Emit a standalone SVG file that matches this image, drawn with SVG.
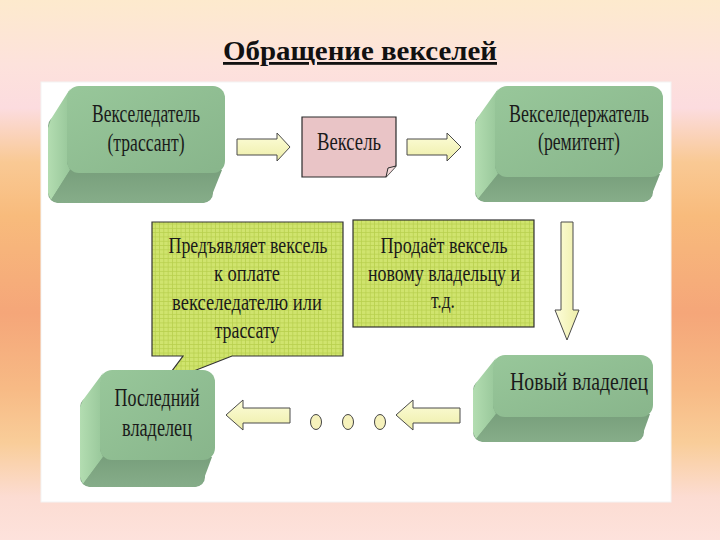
<svg xmlns="http://www.w3.org/2000/svg" width="720" height="540" viewBox="0 0 720 540">
<defs>
  <linearGradient id="bg" x1="0" y1="0" x2="0" y2="1">
    <stop offset="0" stop-color="#fdeacd"/>
    <stop offset="0.12" stop-color="#fde2dc"/>
    <stop offset="0.2" stop-color="#fcdcdf"/>
    <stop offset="0.3" stop-color="#f9c994"/>
    <stop offset="0.4" stop-color="#f8bb7c"/>
    <stop offset="0.58" stop-color="#f5a679"/>
    <stop offset="0.72" stop-color="#f7ba85"/>
    <stop offset="0.82" stop-color="#f9cd99"/>
    <stop offset="0.92" stop-color="#fcdcd2"/>
    <stop offset="1" stop-color="#fde2dc"/>
  </linearGradient>
  <linearGradient id="front" x1="0" y1="0" x2="1" y2="1">
    <stop offset="0" stop-color="#98c79a"/>
    <stop offset="1" stop-color="#88b58b"/>
  </linearGradient>
  <linearGradient id="side" x1="0" y1="0" x2="1" y2="0">
    <stop offset="0" stop-color="#b3ddb1"/>
    <stop offset="1" stop-color="#98c79a"/>
  </linearGradient>
  <linearGradient id="bottom" x1="0" y1="0" x2="0" y2="1">
    <stop offset="0" stop-color="#789f7c"/>
    <stop offset="1" stop-color="#86ad89"/>
  </linearGradient>
  <linearGradient id="arrowFill" x1="0" y1="0" x2="0" y2="1">
    <stop offset="0" stop-color="#fdfdda"/>
    <stop offset="1" stop-color="#eeeea8"/>
  </linearGradient>
  <linearGradient id="arrowFillV" x1="0" y1="0" x2="1" y2="0">
    <stop offset="0" stop-color="#fdfdda"/>
    <stop offset="1" stop-color="#eeeea8"/>
  </linearGradient>
  <pattern id="grid" width="4.3" height="4.3" patternUnits="userSpaceOnUse">
    <rect width="4.3" height="4.3" fill="#d0e46e"/>
    <path d="M0 0.4H4.3M0.4 0V4.3" stroke="#b7d04e" stroke-width="0.8"/>
  </pattern>
</defs>
<style>
  .t { font-family: "Liberation Serif", "Times New Roman", serif; font-size: 25px; fill: #1a1a1a; text-anchor: middle; }
  .s { font-size: 23px; }
  .title { font-family: "Liberation Serif", "Times New Roman", serif; font-weight: bold; font-size: 28px; fill: #111; text-anchor: middle; text-decoration: underline; }
  .front { fill: url(#front); }
  .side { fill: url(#side); }
  .bot { fill: url(#bottom); }
  .back { fill: #7ea582; }
  .arrow { fill: url(#arrowFill); stroke: #4a4a4a; stroke-width: 1; stroke-linejoin: miter; }
  .dot { fill: #f6f2bc; stroke: #444; stroke-width: 1; }
  .callout { fill: url(#grid); stroke: #333; stroke-width: 1.2; }
</style>

<rect width="720" height="540" fill="url(#bg)"/>
<rect x="41" y="82" width="630" height="420" fill="#ffffff" stroke="#f3f3f3" stroke-width="1"/>

<text class="title" x="360" y="60" textLength="274" lengthAdjust="spacingAndGlyphs">Обращение векселей</text>

<g id="drawer">
  <rect class="back" x="48" y="116" width="165" height="87" rx="10"/>
  <polygon class="side" points="70,89 51,119 48,128 48,193 51,200 70,170 67,163 67,98"/>
  <polygon class="bot" points="70,170 51,200 58,203 203,203 210,200 222,170"/>
  <rect class="front" x="67" y="86" width="158" height="87" rx="12"/>
  <text class="t" x="146" y="122" textLength="108" lengthAdjust="spacingAndGlyphs">Векселедатель</text>
  <text class="t" x="146" y="151" textLength="77" lengthAdjust="spacingAndGlyphs">(трассант)</text>
</g>

<g id="bill">
  <path d="M302,117 H396 V166 L386,177 H302 Z" fill="#e9c4c6" stroke="#2a2a2a" stroke-width="1.2"/>
  <path d="M386,177 L388,168 L396,166" fill="#f4dcdc" stroke="#2a2a2a" stroke-width="1"/>
  <text class="t" x="349" y="150" textLength="64" lengthAdjust="spacingAndGlyphs">Вексель</text>
</g>

<g id="holder">
  <rect class="back" x="475" y="114" width="178" height="88" rx="10"/>
  <polygon class="side" points="498,89 478,117 475,124 475,192 478,199 498,174 495,167 495,98"/>
  <polygon class="bot" points="498,174 478,199 485,202 643,202 650,199 660,174"/>
  <rect class="front" x="495" y="86" width="168" height="91" rx="12"/>
  <text class="t" x="579" y="122" textLength="140" lengthAdjust="spacingAndGlyphs">Векселедержатель</text>
  <text class="t" x="579" y="150" textLength="82" lengthAdjust="spacingAndGlyphs">(ремитент)</text>
</g>

<g id="present-note">
  <path class="callout" d="M152,222 H343 V356 H232 L163,383 L183,356 H152 Z"/>
  <text class="t s" x="248" y="253" textLength="159" lengthAdjust="spacingAndGlyphs">Предъявляет вексель</text>
  <text class="t s" x="247" y="281" textLength="66" lengthAdjust="spacingAndGlyphs">к оплате</text>
  <text class="t s" x="247" y="310" textLength="150" lengthAdjust="spacingAndGlyphs">векселедателю или</text>
  <text class="t s" x="247" y="338" textLength="65" lengthAdjust="spacingAndGlyphs">трассату</text>
</g>

<g id="sell-note">
  <rect class="callout" x="353" y="220" width="181" height="107"/>
  <text class="t s" x="444" y="253" textLength="127" lengthAdjust="spacingAndGlyphs">Продаёт вексель</text>
  <text class="t s" x="444" y="281" textLength="152" lengthAdjust="spacingAndGlyphs">новому владельцу и</text>
  <text class="t s" x="443" y="308" textLength="24" lengthAdjust="spacingAndGlyphs">т.д.</text>
</g>

<g id="new-owner">
  <rect class="back" x="473" y="380" width="171" height="62" rx="10"/>
  <polygon class="side" points="496,358 476,383 473,390 473,432 476,439 496,414 493,407 493,367"/>
  <polygon class="bot" points="496,414 476,439 483,442 634,442 641,439 650,414"/>
  <rect class="front" x="493" y="355" width="160" height="62" rx="12"/>
  <text class="t" x="579" y="390" textLength="138" lengthAdjust="spacingAndGlyphs">Новый владелец</text>
</g>

<g id="last-owner">
  <rect class="back" x="80" y="397" width="125" height="90" rx="10"/>
  <polygon class="side" points="103,373 83,400 80,407 80,477 83,484 103,457 100,450 100,382"/>
  <polygon class="bot" points="103,457 83,484 90,487 195,487 202,484 212,457"/>
  <rect class="front" x="100" y="370" width="115" height="90" rx="12"/>
  <text class="t" x="157" y="406" textLength="85" lengthAdjust="spacingAndGlyphs">Последний</text>
  <text class="t" x="157" y="436" textLength="70" lengthAdjust="spacingAndGlyphs">владелец</text>
</g>

<g id="connectors">
  <polygon class="arrow" points="237,139 277,139 277,133 290,147 277,161 277,155 237,155"/>
  <polygon class="arrow" points="407,139 447,139 447,133 461,147 447,161 447,155 407,155"/>
  <polygon class="arrow" style="fill:url(#arrowFillV)" points="561,222 573,222 573,310 579,310 567,340 555,310 561,310"/>
  <polygon class="arrow" points="460,408 413,408 413,400 396,415 413,430 413,423 460,423"/>
  <polygon class="arrow" points="290,408 243,408 243,400 226,415 243,430 243,423 290,423"/>
  <ellipse class="dot" cx="316" cy="422" rx="5.5" ry="7.5"/>
  <ellipse class="dot" cx="348" cy="422" rx="5.5" ry="7.5"/>
  <ellipse class="dot" cx="380" cy="422" rx="5.5" ry="7.5"/>
</g>
</svg>
